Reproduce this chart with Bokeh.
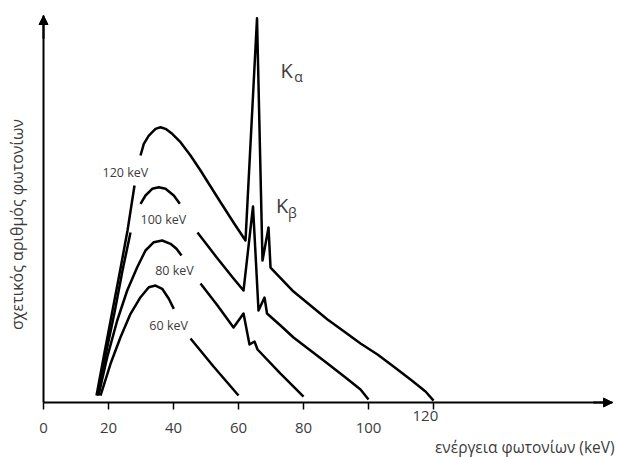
import math
from bokeh.plotting import figure
from bokeh.models import Arrow, NormalHead, FixedTicker
from bokeh.core.properties import value
from bokeh.embed import file_html
from bokeh.resources import INLINE

# ---------------- data ----------------
x_ticks = [0, 20, 40, 60, 80, 100, 120]
x_title = "ενέργεια φωτονίων (keV)"
y_title = "σχετικός αριθμός φωτονίων"

# photon energy (keV) / relative number of photons, one list per drawn piece
kv120_E = [[16.31, 18.77, 21.23, 23.69, 25.85, 28.0],
           [29.85, 30.86, 32.40, 34.46, 36.0, 37.54, 39.6, 42.15, 45.23, 48.31,
            53.54, 58.46, 62.15, 65.69, 67.38, 69.23, 69.85,
            76.92, 82.15, 87.38, 92.92, 97.54, 102.77, 107.69, 112.92, 117.54, 120.0]]
kv120_Y = [[1.81, 12.92, 23.77, 34.63, 44.44, 56.07],
           [63.82, 66.85, 68.99, 70.72, 71.14, 70.72, 69.43, 67.26, 63.82, 59.95,
            52.97, 46.51, 41.86, 99.3, 36.69, 45.22, 34.88,
            28.68, 25.06, 21.45, 18.09, 15.25, 12.40, 9.30, 5.94, 2.84, 0.5]]

kv100_E = [[16.62, 19.08, 21.85, 24.31, 26.77],
           [29.85, 31.38, 33.45, 35.48, 37.54, 40.09, 41.94],
           [47.38, 53.54, 58.46, 61.54, 64.46, 66.15, 68.0, 68.77,
            72.92, 76.92, 82.15, 87.38, 92.92, 97.54, 100.0]]
kv100_Y = [[1.81, 12.14, 23.26, 34.11, 43.93],
           [51.34, 53.49, 55.22, 55.63, 55.22, 53.49, 51.34],
           [43.93, 37.21, 32.04, 28.94, 50.65, 23.77, 27.13, 23.0,
            19.90, 16.80, 13.44, 10.08, 6.46, 3.36, 0.78]]

kv80_E = [[16.92, 19.6, 22.68, 25.75, 28.83, 31.38, 33.94, 36.52, 39.08, 40.92, 42.46],
          [48.31, 53.54, 58.46, 61.54, 63.38, 64.92, 65.85, 72.92, 76.62, 80.0]]
kv80_Y = [[1.81, 11.71, 21.19, 28.94, 34.96, 39.28, 41.42, 41.86, 41.01, 39.72, 37.98],
          [30.75, 25.06, 19.38, 23.0, 14.99, 15.76, 13.70, 7.49, 4.39, 1.5]]

kv60_E = [[17.54, 20.62, 23.69, 26.77, 29.85, 32.4, 34.46, 36.52, 38.55, 40.09],
          [45.23, 52.31, 60.0]]
kv60_Y = [[1.81, 10.0, 16.87, 22.92, 27.21, 29.79, 30.23, 29.38, 26.80, 24.21],
          [16.54, 9.30, 1.81]]

curve_label_text = ["120 keV", "100 keV", "80 keV", "60 keV"]
curve_label_E = [25.2, 36.9, 40.3, 38.5]
curve_label_Y = [59.4, 47.3, 34.1, 19.9]

line_label_main = ["K", "K"]
line_label_main_E = [74.8, 73.4]
line_label_main_Y = [85.7, 50.9]
line_label_sub = ["α", "β"]
line_label_sub_E = [78.5, 76.6]
line_label_sub_Y = [84.3, 49.2]

# ---------------- figure ----------------
FONT = "Open Sans"
TXT = "#3c3c3c"

X_END = 175.08   # arrow tip of the energy axis
Y_END = 100.0    # arrow tip of the count axis

p = figure(width=617, height=457, x_range=(-13.23, 176.6), y_range=(-14.21, 103.88),
           output_backend="svg", toolbar_location=None,
           min_border_left=0, min_border_right=0, min_border_top=0, min_border_bottom=0)
p.outline_line_color = None
p.grid.visible = False
p.background_fill_color = "white"

# x axis, drawn at count = 0
p.xaxis.fixed_location = 0
p.xaxis.bounds = (0, X_END)
p.xaxis.ticker = FixedTicker(ticks=x_ticks)
p.xaxis.major_label_overrides = {120: ""}
p.xaxis.axis_line_width = 2
p.xaxis.axis_line_color = "black"
p.xaxis.major_tick_out = 7
p.xaxis.major_tick_in = 0
p.xaxis.major_tick_line_width = 1.5
p.xaxis.minor_tick_line_color = None
p.xaxis.major_label_text_font = FONT
p.xaxis.major_label_text_font_size = "15px"
p.xaxis.major_label_text_color = TXT
p.xaxis.major_label_standoff = 13

# y axis (line only), drawn at energy = 0
p.yaxis.fixed_location = 0
p.yaxis.bounds = (0, Y_END)
p.yaxis.ticker = FixedTicker(ticks=[])
p.yaxis.axis_line_width = 2
p.yaxis.axis_line_color = "black"
p.yaxis.major_tick_line_color = None
p.yaxis.minor_tick_line_color = None

# arrow heads on both axes
p.add_layout(Arrow(end=NormalHead(size=9, fill_color="black", line_color="black", line_width=1),
                   x_start=0, y_start=Y_END - 6, x_end=0, y_end=Y_END, line_width=2, line_color="black"))
p.add_layout(Arrow(end=NormalHead(size=9, fill_color="black", line_color="black", line_width=1),
                   x_start=X_END - 6, y_start=0, x_end=X_END, y_end=0, line_width=2, line_color="black"))

# curves
for xs, ys in [(kv120_E, kv120_Y), (kv100_E, kv100_Y), (kv80_E, kv80_Y), (kv60_E, kv60_Y)]:
    p.multi_line(xs=xs, ys=ys, line_color="black", line_width=2.5, line_join="round")

# curve labels
p.text(x=curve_label_E, y=curve_label_Y, text=curve_label_text,
       text_font=value(FONT), text_font_size=value("12.5px"), text_color=TXT,
       text_align="center", text_baseline="middle")
p.text(x=line_label_main_E, y=line_label_main_Y, text=line_label_main,
       text_font=value(FONT), text_font_size=value("20px"), text_color=TXT,
       text_align="center", text_baseline="middle")
p.text(x=line_label_sub_E, y=line_label_sub_Y, text=line_label_sub,
       text_font=value(FONT), text_font_size=value("14px"), text_color=TXT,
       text_align="center", text_baseline="middle")

# raised "120" tick label and axis titles
p.text(x=[117.5], y=[-3.4], text=["120"], text_font=value(FONT), text_font_size=value("15px"),
       text_color=TXT, text_align="center", text_baseline="middle")
p.text(x=[175.7], y=[-11.6], text=[x_title], text_font=value(FONT), text_font_size=value("15.5px"),
       text_color=TXT, text_align="right", text_baseline="middle")
p.text(x=[-8.3], y=[46.0], text=[y_title], angle=math.pi / 2, text_font=value(FONT),
       text_font_size=value("16px"), text_color=TXT, text_align="center", text_baseline="middle")

open("out.html", "w").write(file_html(p, INLINE))
